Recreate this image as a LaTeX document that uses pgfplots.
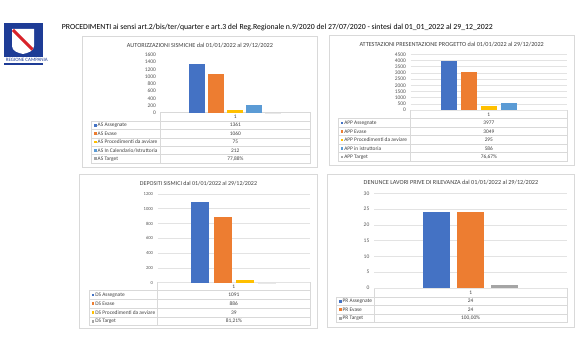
\documentclass[border=0pt]{standalone}
\usepackage{fontspec}
\setmainfont{Carlito}
\usepackage{pgfplots}
\pgfplotsset{compat=1.18}
\definecolor{cblue}{HTML}{4472C4}
\definecolor{corange}{HTML}{ED7D31}
\definecolor{cyellow}{HTML}{FFC000}
\definecolor{cltblue}{HTML}{5B9BD5}
\definecolor{cgray}{HTML}{A5A5A5}
\definecolor{gridc}{HTML}{E3E3E3}
\definecolor{tickc}{HTML}{595959}
\definecolor{borderc}{HTML}{D9D9D9}
\definecolor{txtc}{HTML}{404040}
\definecolor{logoblue}{HTML}{1E3C96}
\definecolor{logored}{HTML}{D8232A}

\tikzset{
  tabline/.style={draw=borderc, line width=0.5pt},
  tabtxt/.style={font=\fontsize{5.4}{6}\selectfont, text=txtc, inner sep=0pt},
}
% header: divX, rightX, top, h
\newcommand{\tabhead}[4]{%
  \draw[tabline] (#1,#3) rectangle (#2,#3+#4);
  \node[tabtxt] at ({(#1+#2)/2},{#3+#4/2}) {1};}
% row: leftX, divX, rightX, top, h, color, label, value
\newcommand{\tabrow}[8]{%
  \draw[tabline] (#1,#4) rectangle (#3,#4+#5);
  \draw[tabline] (#2,#4) -- (#2,#4+#5);
  \fill[#6] (#1+2.2,{#4+#5/2-1.4}) rectangle ++(2.8,2.8);
  \node[tabtxt,anchor=west] at (#1+5.8,{#4+#5/2}) {#7};
  \node[tabtxt] at ({(#2+#3)/2},{#4+#5/2}) {#8};}

\pgfplotsset{
  panel/.style={
    anchor=south west, scale only axis,
    xmin=-0.5, xmax=0.5, ymin=0,
    xtick=\empty,
    axis line style={draw=none},
    major tick length=0pt,
    tick style={draw=none},
    yticklabel style={font=\fontsize{5.5}{6}\selectfont, text=tickc, inner sep=0pt, xshift=-4.5pt},
    /pgf/number format/assume math mode=true,
    /pgf/number format/1000 sep={},
    grid style={gridc, line width=0.6pt},
    clip=false,
  },
}

\begin{document}
\begin{tikzpicture}
\path[use as bounding box, fill=white] (0pt,0pt) rectangle (581pt,352pt);

% ---------- frames, logo, titles, tables ----------
\begin{scope}[x=1pt, y=-1pt, shift={(0pt,352pt)}]
  % logo
  \fill[logoblue] (4,23) rectangle (43,65);
  \fill[white] (12,29) -- (34,29) -- (34,46) .. controls (34,51) and (28,53) .. (23,54) .. controls (18,53) and (12,51) .. (12,46) -- cycle;
  \begin{scope}
    \clip (12,29) -- (34,29) -- (34,46) .. controls (34,51) and (28,53) .. (23,54) .. controls (18,53) and (12,51) .. (12,46) -- cycle;
    \draw[logored, line width=3pt] (13,30) -- (34,51);
  \end{scope}
  \fill[white] (0,57.4) rectangle (48.5,63.2);
  \node[font=\fontsize{5}{5}\selectfont, text=logoblue, inner sep=0pt, anchor=east] at (48,60.4) {REGIONE CAMPANIA};

  % main title
  \node[font=\fontsize{7.8}{9}\selectfont, anchor=west, inner sep=0pt] at (61.7,27) {PROCEDIMENTI ai sensi art.2/bis/ter/quarter e art.3 del Reg.Regionale n.9/2020 del 27/07/2020 - sintesi dal 01\_01\_2022 al 29\_12\_2022};

  % panel frames
  \draw[borderc, line width=0.6pt] (82,36) rectangle (317,167);
  \draw[borderc, line width=0.6pt] (329,35) rectangle (574,165);
  \draw[borderc, line width=0.6pt] (79,174) rectangle (317,328);
  \draw[borderc, line width=0.6pt] (327,174) rectangle (574,327);

  % panel titles
  \node[font=\fontsize{6.2}{7}\selectfont, text=txtc, inner sep=0pt] at (200,45) {AUTORIZZAZIONI SISMICHE dal 01/01/2022 al 29/12/2022};
  \node[font=\fontsize{6.2}{7}\selectfont, text=txtc, inner sep=0pt] at (451.7,44) {ATTESTAZIONI PRESENTAZIONE PROGETTO dal 01/01/2022 al 29/12/2022};
  \node[font=\fontsize{6}{7}\selectfont, text=txtc, inner sep=0pt] at (198.5,184) {DEPOSITI SISMICI dal 01/01/2022 al 29/12/2022};
  \node[font=\fontsize{6.2}{7}\selectfont, text=txtc, inner sep=0pt] at (451,182.7) {DENUNCE LAVORI PRIVE DI RILEVANZA dal 01/01/2022 al 29/12/2022};

  % table 1
  \tabhead{160.7}{310}{112.7}{8.3}
  \tabrow{91.7}{160.7}{310}{121}{8.4}{cblue}{AS Assegnate}{1361}
  \tabrow{91.7}{160.7}{310}{129.4}{8.4}{corange}{AS Evase}{1060}
  \tabrow{91.7}{160.7}{310}{137.8}{8.4}{cyellow}{AS Procedimenti da avviare}{75}
  \tabrow{91.7}{160.7}{310}{146.2}{8.4}{cltblue}{AS In Calendario/Istruttoria}{212}
  \tabrow{91.7}{160.7}{310}{154.6}{8.4}{cgray}{AS Target}{77,88\%}

  % table 2
  \tabhead{410.7}{567}{110}{8.7}
  \tabrow{338.3}{410.7}{567}{118.7}{8.5}{cblue}{APP Assegnate}{3977}
  \tabrow{338.3}{410.7}{567}{127.2}{8.5}{corange}{APP Evase}{3049}
  \tabrow{338.3}{410.7}{567}{135.7}{8.5}{cyellow}{APP Procedimenti da avviare}{295}
  \tabrow{338.3}{410.7}{567}{144.2}{8.5}{cltblue}{APP in istruttoria}{586}
  \tabrow{338.3}{410.7}{567}{152.7}{8.5}{cgray}{APP Target}{76,67\%}

  % table 3
  \tabhead{157.7}{310}{282.7}{8}
  \tabrow{89.3}{157.7}{310}{290.7}{8.7}{cblue}{DS Assegnate}{1091}
  \tabrow{89.3}{157.7}{310}{299.4}{8.7}{corange}{DS Evase}{886}
  \tabrow{89.3}{157.7}{310}{308.1}{8.7}{cyellow}{DS Procedimenti da avviare}{39}
  \tabrow{89.3}{157.7}{310}{316.8}{8.7}{cgray}{DS Target}{81,21\%}

  % table 4
  \tabhead{374}{567.3}{288}{9}
  \tabrow{336.7}{374}{567.3}{297}{8.5}{cblue}{PR Assegnate}{24}
  \tabrow{336.7}{374}{567.3}{305.5}{8.5}{corange}{PR Evase}{24}
  \tabrow{336.7}{374}{567.3}{314}{8.5}{cgray}{PR Target}{100,00\%}
\end{scope}

% ---------- panel 1 ----------
\begin{axis}[panel, at={(160.7pt,239.3pt)}, width=149.3pt, height=57.7pt,
  ybar=3pt, bar width=16pt, ymax=1600, ytick distance=200]
\addplot[fill=cblue, draw=none] coordinates {(0,1361)};
\addplot[fill=corange, draw=none] coordinates {(0,1060)};
\addplot[fill=cyellow, draw=none] coordinates {(0,75)};
\addplot[fill=cltblue, draw=none] coordinates {(0,212)};
\addplot[fill=cgray!25, draw=none] coordinates {(0,0.7788)};
\end{axis}

% ---------- panel 2 ----------
\begin{axis}[panel, at={(410.7pt,242pt)}, width=156.3pt, height=55.7pt,
  ybar=4pt, bar width=16pt, ymax=4500, ytick distance=500, ymajorgrids]
\addplot[fill=cblue, draw=none] coordinates {(0,3977)};
\addplot[fill=corange, draw=none] coordinates {(0,3049)};
\addplot[fill=cyellow, draw=none] coordinates {(0,295)};
\addplot[fill=cltblue, draw=none] coordinates {(0,586)};
\addplot[fill=cgray!25, draw=none] coordinates {(0,0.7667)};
\end{axis}

% ---------- panel 3 ----------
\begin{axis}[panel, at={(157.7pt,69.3pt)}, width=152.3pt, height=88.7pt,
  ybar=4.3pt, bar width=18pt, ymax=1200, ytick distance=200, ymajorgrids,
  yticklabel style={font=\fontsize{4.6}{5}\selectfont}]
\addplot[fill=cblue, draw=none] coordinates {(0,1091)};
\addplot[fill=corange, draw=none] coordinates {(0,886)};
\addplot[fill=cyellow, draw=none] coordinates {(0,39)};
\addplot[fill=cgray!25, draw=none] coordinates {(0,0.8121)};
\end{axis}

% ---------- panel 4 ----------
\begin{axis}[panel, at={(374pt,64pt)}, width=193.3pt, height=94.7pt,
  ybar=6.7pt, bar width=27pt, ymax=30, ytick distance=5, ymajorgrids]
\addplot[fill=cblue, draw=none] coordinates {(0,24)};
\addplot[fill=corange, draw=none] coordinates {(0,24)};
\addplot[fill=cgray, draw=none] coordinates {(0,1.0)};
\end{axis}
\end{tikzpicture}
\end{document}
